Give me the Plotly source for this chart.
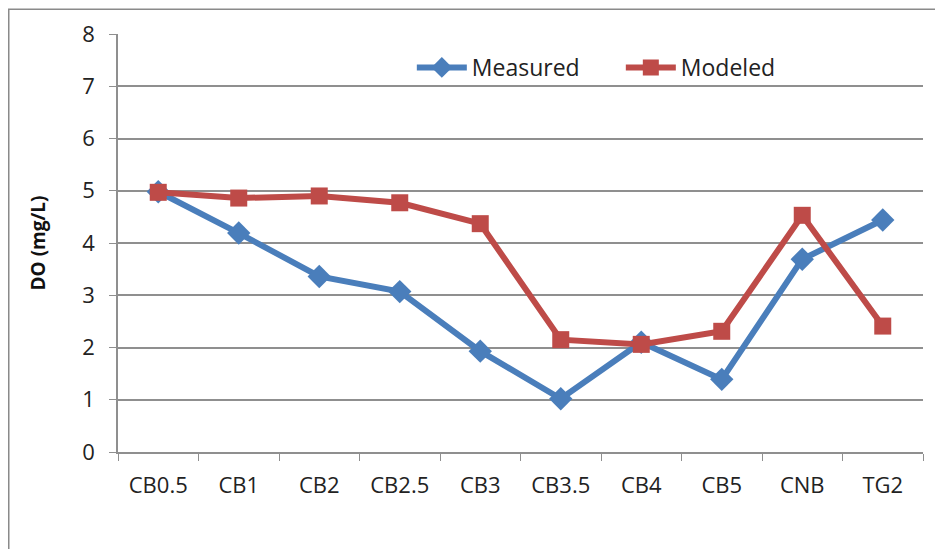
import plotly.graph_objects as go

categories = ["CB0.5", "CB1", "CB2", "CB2.5", "CB3", "CB3.5", "CB4", "CB5", "CNB", "TG2"]
measured = [4.98, 4.19, 3.36, 3.07, 1.93, 1.02, 2.10, 1.39, 3.69, 4.44]
modeled = [4.97, 4.86, 4.90, 4.77, 4.37, 2.15, 2.06, 2.31, 4.53, 2.41]

FONT = "Open Sans"
GRID = "#8f8f8f"
TXT = "#222222"

# page body has an 8px margin: figure is offset by 8px, so shrink accordingly
W, H = 935, 541

fig = go.Figure()
fig.add_trace(go.Scatter(
    x=categories, y=measured, name="Measured", mode="lines+markers",
    line=dict(color="#4A7EBB", width=6),
    marker=dict(symbol="diamond", size=18, color="#4A7EBB"),
))
fig.add_trace(go.Scatter(
    x=categories, y=modeled, name="Modeled", mode="lines+markers",
    line=dict(color="#BE4B48", width=6),
    marker=dict(symbol="square", size=17, color="#BE4B48"),
))

fig.update_layout(
    width=W, height=H,
    margin=dict(l=110, r=20, t=26, b=97, autoexpand=False),
    paper_bgcolor="white", plot_bgcolor="white",
    font=dict(family=FONT, size=22, color=TXT),
    showlegend=True,
    legend=dict(
        orientation="h", x=0.365, y=0.92, xanchor="left", yanchor="middle",
        font=dict(family=FONT, size=23, color=TXT),
        bgcolor="rgba(0,0,0,0)", itemwidth=50, entrywidth=144,
    ),
    xaxis=dict(
        type="category", tickson="boundaries", ticks="outside", ticklen=7,
        tickcolor=GRID, showline=True, linecolor=GRID, linewidth=1.5,
        showgrid=False, tickfont=dict(family=FONT, size=22, color=TXT),
        ticklabelstandoff=13,
        range=[-0.5, 9.5],
    ),
    yaxis=dict(
        range=[0, 8], dtick=1, ticks="outside", ticklen=7, tickcolor=GRID,
        showline=True, linecolor=GRID, linewidth=1.5,
        showgrid=True, gridcolor=GRID, gridwidth=1.5,
        zeroline=False, ticklabelstandoff=10,
        tickfont=dict(family=FONT, size=22, color=TXT),
        title=dict(text="<b>DO (mg/L)</b>", standoff=32,
                   font=dict(family=FONT, size=19, color="#111111")),
    ),
    shapes=[dict(type="rect", xref="paper", yref="paper",
                 x0=-0.1357, x1=1.05, y0=-0.4, y1=1.059,
                 line=dict(color="#8a8a8a", width=1.5), layer="below")],
)

fig.write_html("out.html")
